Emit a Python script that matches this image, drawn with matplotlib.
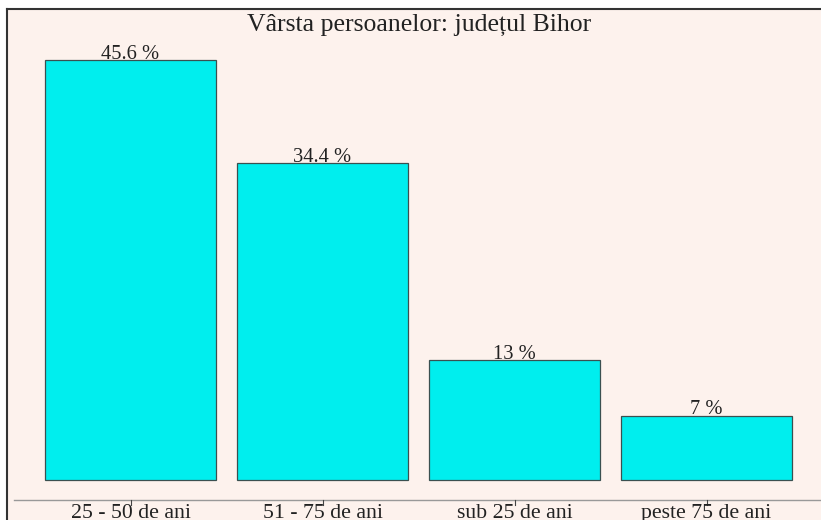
import matplotlib
matplotlib.use("Agg")
import matplotlib.pyplot as plt

categories = ["25 - 50 de ani", "51 - 75 de ani", "sub 25 de ani", "peste 75 de ani"]
values = [45.6, 34.4, 13, 7]
value_labels = ["45.6 %", "34.4 %", "13 %", "7 %"]
title = "Vârsta persoanelor: județul Bihor"

W, H = 821, 520
fig = plt.figure(figsize=(W / 100, H / 100), dpi=100, facecolor="white")
plt.rcParams['font.family'] = ['Liberation Serif', 'DejaVu Serif']

# axes occupying panel from x=7 to 821, y=9 to 520 (px)
ax = fig.add_axes([7 / W, 0, (W - 7) / W, (H - 9) / H])
ax.set_facecolor("#FDF2ED")

ppu = 9.21      # pixels per percent
x0px, step = 130.5, 192.0
base_px = 480
ax.set_xlim((7 - x0px) / step, (W - x0px) / step)
ax.set_ylim((base_px - H) / ppu, (base_px - 9) / ppu)

xs = list(range(len(categories)))
ax.bar(xs, values, width=0.89, color="#00EEEE", edgecolor="#3A5050", linewidth=0.9, zorder=2)
for x, v, lab in zip(xs, values, value_labels):
    ax.text(x, v + 1.5 / ppu, lab, ha="center", va="baseline", fontsize=14.8, color="#222222", zorder=3)

fig.text(419 / W, 1 - 31 / H, title, ha="center", va="baseline", fontsize=18.5, color="#222222")

axis_y = -20 / ppu
ax.plot([(14 - x0px) / step, (W - x0px) / step], [axis_y, axis_y], color="#999999", lw=1.0, zorder=1)
for x, c in zip(xs, categories):
    ax.plot([x, x], [axis_y, axis_y - 5 / ppu], color="#444444", lw=0.8, zorder=1)
    ax.text(x, axis_y - 18 / ppu, c, ha="center", va="baseline", fontsize=15.7, color="#222222")

ax.set_xticks([])
ax.set_yticks([])
for s in ["right", "bottom"]:
    ax.spines[s].set_visible(False)
for s in ["top", "left"]:
    ax.spines[s].set_color("#333333")
    ax.spines[s].set_linewidth(1.5)

fig.savefig("out.png", dpi=100, facecolor="white")
